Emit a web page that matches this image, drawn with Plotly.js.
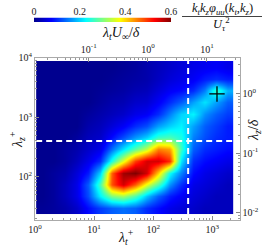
<!DOCTYPE html>
<html><head><meta charset="utf-8">
<script src="https://cdn.plot.ly/plotly-3.0.1.min.js"></script>
<style>html,body{margin:0;padding:0;background:#fff}#chart{width:266px;height:248px}</style>
</head><body><div id="chart"></div>
<script>
// grid bounds (lambda_t^+ columns, lambda_z^+ rows)
const lambdaTEdges = [1.047,1.646,2.588,4.070,6.397,10.06,15.81,24.86,39.08,61.44,96.6,151.9,238.8,375.4,590.2,927.9,1459,2294];
const lambdaZEdges = [23.99,37.76,59.43,93.54,147.2,231.7,364.8,574.1,903.6,1422,2239,3524,5546,8730];
// premultiplied spectrum k_t k_z phi_uu / U_tau^2, rows = lambda_z^+ (bottom to top)
const spectrum = [
 [0.005,0.01,0.02,0.04,0.08,0.11,0.13,0.14,0.13,0.10,0.08,0.06,0.05,0.04,0.03,0.03,0.03],
 [0.0,0.01,0.03,0.06,0.12,0.22,0.30,0.32,0.27,0.19,0.13,0.09,0.07,0.05,0.04,0.03,0.03],
 [0.0,0.01,0.03,0.06,0.13,0.27,0.48,0.55,0.47,0.36,0.27,0.16,0.10,0.06,0.05,0.04,0.03],
 [0.0,0.01,0.02,0.05,0.09,0.20,0.47,0.58,0.60,0.55,0.40,0.23,0.15,0.08,0.06,0.05,0.04],
 [0.0,0.0,0.01,0.03,0.06,0.10,0.24,0.36,0.49,0.55,0.55,0.50,0.21,0.10,0.08,0.07,0.06],
 [0.0,0.0,0.01,0.02,0.04,0.06,0.14,0.21,0.28,0.34,0.45,0.43,0.26,0.13,0.10,0.09,0.08],
 [0.0,0.0,0.0,0.01,0.03,0.04,0.08,0.12,0.165,0.20,0.26,0.27,0.24,0.15,0.12,0.10,0.09],
 [0.0,0.0,0.0,0.0,0.02,0.03,0.05,0.07,0.10,0.12,0.17,0.20,0.22,0.17,0.13,0.11,0.09],
 [0.0,0.0,0.0,0.0,0.01,0.02,0.03,0.04,0.06,0.07,0.10,0.15,0.20,0.22,0.16,0.13,0.11],
 [0.0,0.0,0.0,0.0,0.0,0.01,0.02,0.025,0.04,0.045,0.07,0.10,0.13,0.17,0.21,0.17,0.13],
 [0.0,0.0,0.0,0.0,0.0,0.005,0.01,0.015,0.025,0.03,0.05,0.07,0.08,0.10,0.15,0.26,0.18],
 [0.0,0.0,0.0,0.0,0.0,0.0,0.005,0.01,0.015,0.02,0.035,0.05,0.06,0.07,0.09,0.10,0.09],
 [0.0,0.0,0.0,0.0,0.0,0.0,0.0,0.005,0.01,0.02,0.03,0.04,0.05,0.06,0.065,0.07,0.06]
];
const cutLambdaT = [390];
const cutLambdaZ = [400];
const markerLambdaT = [1200];
const markerLambdaZ = [2450];
const colorRange = [0, 0.6];
const colorTicks = [0, 0.2, 0.4, 0.6];
const colorTickText = ['0', '0.2', '0.4', '0.6'];
const xTicks = [1, 10, 100, 1000];
const xTickText = ['10<sup>0</sup>','10<sup>1</sup>','10<sup>2</sup>','10<sup>3</sup>'];
const x2Ticks = [0.1, 1, 10];
const x2TickText = ['10<sup>-1</sup>','10<sup>0</sup>','10<sup>1</sup>'];
const yTicks = [100, 1000, 10000];
const yTickText = ['10<sup>2</sup>','10<sup>3</sup>','10<sup>4</sup>'];
const y2Ticks = [0.01, 0.1, 1];
const y2TickText = ['10<sup>-2</sup>','10<sup>-1</sup>','10<sup>0</sup>'];
const xMinor = [2,3,4,5,6,7,8,9,20,30,40,50,60,70,80,90,200,300,400,500,600,700,800,900,2000];
const x2Minor = [0.02,0.03,0.04,0.05,0.06,0.07,0.08,0.09,0.2,0.3,0.4,0.5,0.6,0.7,0.8,0.9,2,3,4,5,6,7,8,9,20,30];
const yMinor = [20,30,40,50,60,70,80,90,200,300,400,500,600,700,800,900,2000,3000,4000,5000,6000,7000,8000,9000];
const y2Minor = [0.008,0.009,0.02,0.03,0.04,0.05,0.06,0.07,0.08,0.09,0.2,0.3,0.4,0.5,0.6,0.7,0.8,0.9,2,3];

const jet = [[0,'#00008F'],[0.125,'#0000FF'],[0.375,'#00FFFF'],[0.625,'#FFFF00'],[0.875,'#FF0000'],[1,'#800000']];
const serif = 'Liberation Serif, DejaVu Serif, serif';
const W = 266, H = 248;
const px = v => v / W, py = v => 1 - v / H;

const nT = lambdaTEdges.length, nZ = lambdaZEdges.length;
const traces = [
 {type:'heatmap', x:lambdaTEdges, y:lambdaZEdges, z:spectrum, colorscale:jet,
  zmin:colorRange[0], zmax:colorRange[1], zsmooth:'best', showscale:false, xaxis:'x', yaxis:'y', hoverinfo:'skip'},
 {type:'scatter', mode:'lines', x:[cutLambdaT[0], cutLambdaT[0]], y:[lambdaZEdges[0], lambdaZEdges[nZ-1]],
  line:{color:'white', width:2, dash:'6px,4px'}, xaxis:'x', yaxis:'y', showlegend:false, hoverinfo:'skip'},
 {type:'scatter', mode:'lines', x:[lambdaTEdges[0], lambdaTEdges[nT-1]], y:[cutLambdaZ[0], cutLambdaZ[0]],
  line:{color:'white', width:2, dash:'6px,4px'}, xaxis:'x', yaxis:'y', showlegend:false, hoverinfo:'skip'},
 {type:'scatter', mode:'markers', x:markerLambdaT, y:markerLambdaZ,
  marker:{symbol:'cross-thin', size:11, line:{color:'black', width:1.3}}, xaxis:'x', yaxis:'y', showlegend:false, hoverinfo:'skip'},
 {type:'heatmap', x:colorRange, y:[0,1], z:[colorRange, colorRange], colorscale:jet,
  zmin:colorRange[0], zmax:colorRange[1], zsmooth:'best', showscale:false, xaxis:'x3', yaxis:'y3', hoverinfo:'skip'},
 // empty traces so the outer (top / right) scales are drawn
 {type:'scatter', mode:'markers', x:[], y:[], xaxis:'x2', yaxis:'y', showlegend:false, hoverinfo:'skip'},
 {type:'scatter', mode:'markers', x:[], y:[], xaxis:'x', yaxis:'y2', showlegend:false, hoverinfo:'skip'}
];

const tickfont = {family:serif, size:10, color:'#222'};
const baseAxis = {showgrid:false, zeroline:false, showline:true, linecolor:'#aaa', linewidth:1,
  ticks:'inside', ticklen:4, tickcolor:'#888', tickwidth:1, tickfont:tickfont, fixedrange:true, tickmode:'array'};

const ann = (text, x, y, size, angle) => ({text:text, x:px(x), y:py(y), xref:'paper', yref:'paper',
  xanchor:'center', yanchor:'middle', showarrow:false, textangle:angle || 0, font:{family:serif, size:size, color:'#111'}});

const layout = {
 width:W, height:H, margin:{l:0,r:0,t:0,b:0}, paper_bgcolor:'white', plot_bgcolor:'rgba(0,0,0,0)',
 showlegend:false,
 xaxis: Object.assign({}, baseAxis, {type:'log', domain:[35/W, 239.5/W], range:[0, 3.46], anchor:'y',
   tickvals:xTicks, ticktext:xTickText, minor:{ticks:'inside', ticklen:2, tickcolor:'#999', tickvals:xMinor}}),
 xaxis2: Object.assign({}, baseAxis, {type:'log', overlaying:'x', side:'top', anchor:'y', range:[-1.91, 1.55],
   tickvals:x2Ticks, ticktext:x2TickText, minor:{ticks:'inside', ticklen:2, tickcolor:'#999', tickvals:x2Minor}}),
 yaxis: Object.assign({}, baseAxis, {type:'log', domain:[28/H, 190.5/H], range:[1.278, 4], anchor:'x',
   tickvals:yTicks, ticktext:yTickText, minor:{ticks:'inside', ticklen:2, tickcolor:'#999', tickvals:yMinor}}),
 yaxis2: Object.assign({}, baseAxis, {type:'log', overlaying:'y', side:'right', anchor:'x', range:[-2.122, 0.6],
   tickvals:y2Ticks, ticktext:y2TickText, minor:{ticks:'inside', ticklen:2, tickcolor:'#999', tickvals:y2Minor}}),
 xaxis3: {domain:[34/W, 171/W], range:colorRange, anchor:'y3', side:'top', showgrid:false, zeroline:false, showline:false,
   ticks:'', tickmode:'array', tickvals:colorTicks, ticktext:colorTickText, tickfont:tickfont, fixedrange:true},
 yaxis3: {domain:[(H-22)/H, (H-17.5)/H], range:[-0.5, 1.5], anchor:'x3', visible:false, fixedrange:true},
 annotations: [
  ann('<i>λ</i><sub><i>t</i></sub><sup>+</sup>', 126, 237, 14),
  ann('<i>λ</i><sub><i>z</i></sub><sup>+</sup>', 17, 140, 14, -90),
  ann('<i>λ</i><sub><i>t</i></sub><i>U</i><sub>∞</sub>/<i>δ</i>', 121, 33, 14),
  ann('<i>λ</i><sub><i>z</i></sub>/<i>δ</i>', 254, 130, 14, -90),
  ann('<i>k</i><sub><i>t</i></sub><i>k</i><sub><i>z</i></sub><i>φ</i><sub><i>uu</i></sub>(<i>k</i><sub><i>t</i></sub>,<i>k</i><sub><i>z</i></sub>)', 222, 9, 12.5),
  ann('<i>U</i><sub><i>τ</i></sub><sup>2</sup>', 221, 24, 12.5)
 ],
 shapes: [
  {type:'line', xref:'paper', yref:'paper', x0:px(182), x1:px(262), y0:py(16.5), y1:py(16.5), line:{color:'#111', width:0.8}}
 ]
};

Plotly.newPlot('chart', traces, layout, {staticPlot:true, displayModeBar:false});
</script>
</body></html>
